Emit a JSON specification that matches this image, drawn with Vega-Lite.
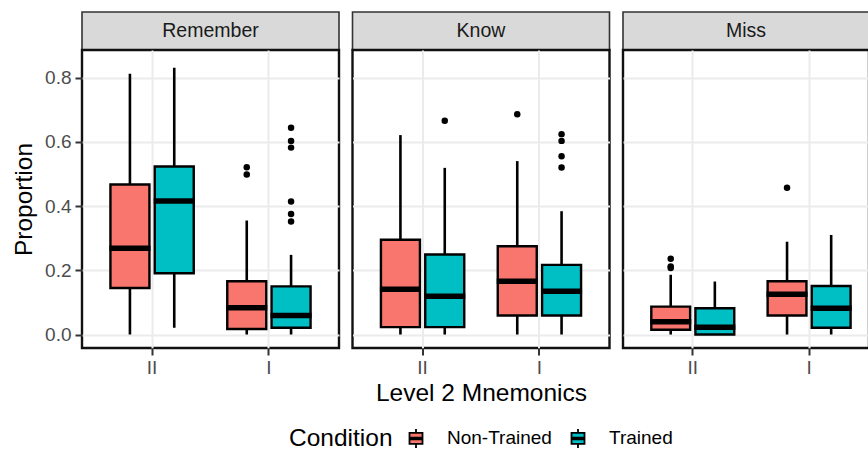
{
  "$schema": "https://vega.github.io/schema/vega-lite/v6.json",
  "padding": {"left": 10, "top": 11, "right": 0, "bottom": 0},
  "autosize": {"type": "pad"},
  "datasets": {
    "boxes": [
      {"panel": "Remember", "level": "II", "condition": "Non-Trained", "lower": 0.0, "q1": 0.145, "median": 0.269, "q3": 0.467, "upper": 0.812},
      {"panel": "Remember", "level": "II", "condition": "Trained", "lower": 0.021, "q1": 0.191, "median": 0.416, "q3": 0.523, "upper": 0.831},
      {"panel": "Remember", "level": "I", "condition": "Non-Trained", "lower": 0.0, "q1": 0.017, "median": 0.083, "q3": 0.166, "upper": 0.355},
      {"panel": "Remember", "level": "I", "condition": "Trained", "lower": 0.0, "q1": 0.021, "median": 0.059, "q3": 0.150, "upper": 0.248},
      {"panel": "Know", "level": "II", "condition": "Non-Trained", "lower": 0.0, "q1": 0.023, "median": 0.141, "q3": 0.295, "upper": 0.621},
      {"panel": "Know", "level": "II", "condition": "Trained", "lower": 0.0, "q1": 0.023, "median": 0.119, "q3": 0.249, "upper": 0.519},
      {"panel": "Know", "level": "I", "condition": "Non-Trained", "lower": 0.0, "q1": 0.059, "median": 0.166, "q3": 0.275, "upper": 0.540},
      {"panel": "Know", "level": "I", "condition": "Trained", "lower": 0.0, "q1": 0.059, "median": 0.135, "q3": 0.217, "upper": 0.384},
      {"panel": "Miss", "level": "II", "condition": "Non-Trained", "lower": 0.0, "q1": 0.015, "median": 0.040, "q3": 0.087, "upper": 0.186},
      {"panel": "Miss", "level": "II", "condition": "Trained", "lower": 0.0, "q1": 0.0, "median": 0.023, "q3": 0.082, "upper": 0.165},
      {"panel": "Miss", "level": "I", "condition": "Non-Trained", "lower": 0.0, "q1": 0.059, "median": 0.125, "q3": 0.166, "upper": 0.289},
      {"panel": "Miss", "level": "I", "condition": "Trained", "lower": 0.0, "q1": 0.021, "median": 0.082, "q3": 0.151, "upper": 0.310}
    ],
    "outliers": [
      {"panel": "Remember", "level": "I", "condition": "Non-Trained", "value": 0.521},
      {"panel": "Remember", "level": "I", "condition": "Non-Trained", "value": 0.498},
      {"panel": "Remember", "level": "I", "condition": "Trained", "value": 0.644},
      {"panel": "Remember", "level": "I", "condition": "Trained", "value": 0.603},
      {"panel": "Remember", "level": "I", "condition": "Trained", "value": 0.582},
      {"panel": "Remember", "level": "I", "condition": "Trained", "value": 0.414},
      {"panel": "Remember", "level": "I", "condition": "Trained", "value": 0.375},
      {"panel": "Remember", "level": "I", "condition": "Trained", "value": 0.352},
      {"panel": "Know", "level": "II", "condition": "Trained", "value": 0.666},
      {"panel": "Know", "level": "I", "condition": "Non-Trained", "value": 0.686},
      {"panel": "Know", "level": "I", "condition": "Trained", "value": 0.624},
      {"panel": "Know", "level": "I", "condition": "Trained", "value": 0.603},
      {"panel": "Know", "level": "I", "condition": "Trained", "value": 0.555},
      {"panel": "Know", "level": "I", "condition": "Trained", "value": 0.520},
      {"panel": "Miss", "level": "II", "condition": "Non-Trained", "value": 0.236},
      {"panel": "Miss", "level": "II", "condition": "Non-Trained", "value": 0.212},
      {"panel": "Miss", "level": "II", "condition": "Non-Trained", "value": 0.207},
      {"panel": "Miss", "level": "I", "condition": "Non-Trained", "value": 0.457}
    ],
    "strips": [
      {"panel": "Remember"},
      {"panel": "Know"},
      {"panel": "Miss"}
    ]
  },
  "columns": 3,
  "spacing": {"row": 0, "column": 13.5},
  "bounds": "flush",
  "resolve": {"scale": {"x": "independent", "xOffset": "independent", "y": "independent", "fill": "shared"}, "legend": {"fill": "shared"}},
  "concat": [
    {
      "width": 257, "height": 38,
      "view": {"fill": "#D9D9D9", "stroke": "#333333", "strokeWidth": 1.6},
      "data": {"name": "strips"},
      "transform": [{"filter": "datum.panel == 'Remember'"}],
      "mark": {"type": "text", "fontSize": 19.5, "color": "#1A1A1A", "baseline": "middle", "align": "center"},
      "encoding": {"text": {"field": "panel", "type": "nominal"}}
    },
    {
      "width": 257, "height": 38,
      "view": {"fill": "#D9D9D9", "stroke": "#333333", "strokeWidth": 1.6},
      "data": {"name": "strips"},
      "transform": [{"filter": "datum.panel == 'Know'"}],
      "mark": {"type": "text", "fontSize": 19.5, "color": "#1A1A1A", "baseline": "middle", "align": "center"},
      "encoding": {"text": {"field": "panel", "type": "nominal"}}
    },
    {
      "width": 246, "height": 38,
      "view": {"fill": "#D9D9D9", "stroke": "#333333", "strokeWidth": 1.6},
      "data": {"name": "strips"},
      "transform": [{"filter": "datum.panel == 'Miss'"}],
      "mark": {"type": "text", "fontSize": 19.5, "color": "#1A1A1A", "baseline": "middle", "align": "center"},
      "encoding": {"text": {"field": "panel", "type": "nominal"}}
    },
    {
      "width": 257, "height": 298,
      "view": {"stroke": "#111111", "strokeWidth": 2.4},
      "encoding": {
        "x": {"field": "level", "type": "nominal", "sort": ["II", "I"], "scale": {"domain": ["II", "I"], "paddingInner": 0, "paddingOuter": 0.1}, "axis": {"title": null}},
        "xOffset": {"field": "condition", "type": "nominal", "scale": {"domain": ["Non-Trained", "Trained"], "paddingInner": 0.12, "paddingOuter": 0.378}}
      },
      "layer": [
        {
          "data": {"name": "boxes"},
          "transform": [{"filter": "datum.panel == 'Remember'"}],
          "mark": {"type": "rule", "color": "black", "strokeWidth": 2.6},
          "encoding": {
            "y": {"field": "lower", "type": "quantitative", "scale": {"domain": [-0.042, 0.886], "nice": false, "zero": false},
              "axis": {"title": "Proportion", "titlePadding": 8, "values": [0, 0.1, 0.2, 0.3, 0.4, 0.5, 0.6, 0.7, 0.8], "labelOverlap": false,
                "labelExpr": "round(datum.value*10)%2==0 ? format(datum.value, '.1f') : ''",
                "tickOpacity": {"condition": {"test": "round(datum.value*10)%2==1", "value": 0}, "value": 1},
                "gridWidth": {"condition": {"test": "round(datum.value*10)%2==1", "value": 1.2}, "value": 2}}},
            "y2": {"field": "upper"}
          }
        },
        {
          "data": {"name": "boxes"},
          "transform": [{"filter": "datum.panel == 'Remember'"}],
          "mark": {"type": "bar", "stroke": "black", "strokeWidth": 2.4},
          "encoding": {
            "y": {"field": "q1", "type": "quantitative"},
            "y2": {"field": "q3"},
            "fill": {"field": "condition", "type": "nominal", "scale": {"domain": ["Non-Trained", "Trained"], "range": ["#F8766D", "#00BFC4"]},
              "legend": {"title": "Condition", "orient": "none", "legendX": 207, "legendY": 415, "direction": "horizontal", "titleOrient": "left",
                "symbolType": "M-0.65,-0.55H0.65V0.55H-0.65Z M-0.65,-0.08H0.65V0.08H-0.65Z M0,-0.55V-0.95 M0,0.55V0.95",
                "symbolSize": 400, "symbolStrokeColor": "black", "symbolStrokeWidth": 1.8, "symbolOpacity": 1, "labelOffset": 20, "columnPadding": 15, "titlePadding": 12}}
          }
        },
        {
          "data": {"name": "boxes"},
          "transform": [{"filter": "datum.panel == 'Remember'"}],
          "mark": {"type": "tick", "color": "black", "thickness": 5.5, "size": 41, "opacity": 1},
          "encoding": {"y": {"field": "median", "type": "quantitative"}}
        },
        {
          "data": {"name": "outliers"},
          "transform": [{"filter": "datum.panel == 'Remember'"}],
          "mark": {"type": "point", "filled": true, "color": "black", "size": 42, "opacity": 1},
          "encoding": {"y": {"field": "value", "type": "quantitative"}}
        }
      ]
    },
    {
      "width": 257, "height": 298,
      "view": {"stroke": "#111111", "strokeWidth": 2.4},
      "encoding": {
        "x": {"field": "level", "type": "nominal", "sort": ["II", "I"], "scale": {"domain": ["II", "I"], "paddingInner": 0, "paddingOuter": 0.1}, "axis": {"title": "Level 2 Mnemonics", "titlePadding": 4}},
        "xOffset": {"field": "condition", "type": "nominal", "scale": {"domain": ["Non-Trained", "Trained"], "paddingInner": 0.12, "paddingOuter": 0.378}}
      },
      "layer": [
        {
          "data": {"name": "boxes"},
          "transform": [{"filter": "datum.panel == 'Know'"}],
          "mark": {"type": "rule", "color": "black", "strokeWidth": 2.6},
          "encoding": {
            "y": {"field": "lower", "type": "quantitative", "scale": {"domain": [-0.042, 0.886], "nice": false, "zero": false},
              "axis": {"title": null, "labels": false, "ticks": false, "values": [0, 0.1, 0.2, 0.3, 0.4, 0.5, 0.6, 0.7, 0.8],
                "gridWidth": {"condition": {"test": "round(datum.value*10)%2==1", "value": 1.2}, "value": 2}}},
            "y2": {"field": "upper"}
          }
        },
        {
          "data": {"name": "boxes"},
          "transform": [{"filter": "datum.panel == 'Know'"}],
          "mark": {"type": "bar", "stroke": "black", "strokeWidth": 2.4},
          "encoding": {
            "y": {"field": "q1", "type": "quantitative"},
            "y2": {"field": "q3"},
            "fill": {"field": "condition", "type": "nominal", "scale": {"domain": ["Non-Trained", "Trained"], "range": ["#F8766D", "#00BFC4"]},
              "legend": {"title": "Condition", "orient": "none", "legendX": 207, "legendY": 415, "direction": "horizontal", "titleOrient": "left",
                "symbolType": "M-0.65,-0.55H0.65V0.55H-0.65Z M-0.65,-0.08H0.65V0.08H-0.65Z M0,-0.55V-0.95 M0,0.55V0.95",
                "symbolSize": 400, "symbolStrokeColor": "black", "symbolStrokeWidth": 1.8, "symbolOpacity": 1, "labelOffset": 20, "columnPadding": 15, "titlePadding": 12}}
          }
        },
        {
          "data": {"name": "boxes"},
          "transform": [{"filter": "datum.panel == 'Know'"}],
          "mark": {"type": "tick", "color": "black", "thickness": 5.5, "size": 41, "opacity": 1},
          "encoding": {"y": {"field": "median", "type": "quantitative"}}
        },
        {
          "data": {"name": "outliers"},
          "transform": [{"filter": "datum.panel == 'Know'"}],
          "mark": {"type": "point", "filled": true, "color": "black", "size": 42, "opacity": 1},
          "encoding": {"y": {"field": "value", "type": "quantitative"}}
        }
      ]
    },
    {
      "width": 246, "height": 298,
      "view": {"stroke": "#111111", "strokeWidth": 2.4},
      "encoding": {
        "x": {"field": "level", "type": "nominal", "sort": ["II", "I"], "scale": {"domain": ["II", "I"], "paddingInner": 0, "paddingOuter": 0.0574, "align": 0.87}, "axis": {"title": null}},
        "xOffset": {"field": "condition", "type": "nominal", "scale": {"domain": ["Non-Trained", "Trained"], "paddingInner": 0.12, "paddingOuter": 0.378}}
      },
      "layer": [
        {
          "data": {"name": "boxes"},
          "transform": [{"filter": "datum.panel == 'Miss'"}],
          "mark": {"type": "rule", "color": "black", "strokeWidth": 2.6},
          "encoding": {
            "y": {"field": "lower", "type": "quantitative", "scale": {"domain": [-0.042, 0.886], "nice": false, "zero": false},
              "axis": {"title": null, "labels": false, "ticks": false, "values": [0, 0.1, 0.2, 0.3, 0.4, 0.5, 0.6, 0.7, 0.8],
                "gridWidth": {"condition": {"test": "round(datum.value*10)%2==1", "value": 1.2}, "value": 2}}},
            "y2": {"field": "upper"}
          }
        },
        {
          "data": {"name": "boxes"},
          "transform": [{"filter": "datum.panel == 'Miss'"}],
          "mark": {"type": "bar", "stroke": "black", "strokeWidth": 2.4},
          "encoding": {
            "y": {"field": "q1", "type": "quantitative"},
            "y2": {"field": "q3"},
            "fill": {"field": "condition", "type": "nominal", "scale": {"domain": ["Non-Trained", "Trained"], "range": ["#F8766D", "#00BFC4"]},
              "legend": {"title": "Condition", "orient": "none", "legendX": 207, "legendY": 415, "direction": "horizontal", "titleOrient": "left",
                "symbolType": "M-0.65,-0.55H0.65V0.55H-0.65Z M-0.65,-0.08H0.65V0.08H-0.65Z M0,-0.55V-0.95 M0,0.55V0.95",
                "symbolSize": 400, "symbolStrokeColor": "black", "symbolStrokeWidth": 1.8, "symbolOpacity": 1, "labelOffset": 20, "columnPadding": 15, "titlePadding": 12}}
          }
        },
        {
          "data": {"name": "boxes"},
          "transform": [{"filter": "datum.panel == 'Miss'"}],
          "mark": {"type": "tick", "color": "black", "thickness": 5.5, "size": 41, "opacity": 1},
          "encoding": {"y": {"field": "median", "type": "quantitative"}}
        },
        {
          "data": {"name": "outliers"},
          "transform": [{"filter": "datum.panel == 'Miss'"}],
          "mark": {"type": "point", "filled": true, "color": "black", "size": 42, "opacity": 1},
          "encoding": {"y": {"field": "value", "type": "quantitative"}}
        }
      ]
    }
  ],
  "config": {
    "font": "Liberation Sans",
    "axis": {
      "labelFontSize": 19, "labelColor": "#4D4D4D", "labelFont": "Liberation Sans",
      "titleFontSize": 24.5, "titleColor": "black", "titleFontWeight": "normal", "titleFont": "Liberation Sans",
      "tickColor": "#333333", "tickWidth": 2, "tickSize": 7, "labelPadding": 4,
      "grid": true, "gridColor": "#EBEBEB", "gridWidth": 2, "domain": false
    },
    "axisX": {"labelAngle": 0, "labelPadding": 3},
    "legend": {
      "titleFontSize": 24.5, "titleFontWeight": "normal", "titleColor": "black", "titleFont": "Liberation Sans",
      "labelFontSize": 19, "labelColor": "black", "labelFont": "Liberation Sans"
    },
    "text": {"font": "Liberation Sans"}
  }
}
